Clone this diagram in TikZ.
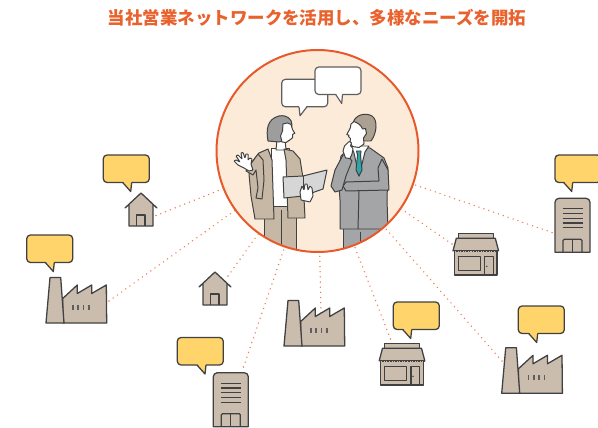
\documentclass[tikz,border=0pt]{standalone}
\usepackage{fontspec}
\newfontfamily\jpfont{Noto Sans CJK JP}

\definecolor{linkorange}{HTML}{EE7A50}
\definecolor{huborange}{HTML}{E8582B}
\definecolor{hubfill}{HTML}{FDEBD9}
\definecolor{titleorange}{HTML}{E9622D}
\definecolor{iconfill}{HTML}{CABDAE}
\definecolor{iconline}{HTML}{414141}
\definecolor{bubbleyellow}{HTML}{FFD46A}
\definecolor{hairgray}{HTML}{9D9D9D}
\definecolor{jacketbeige}{HTML}{C7B8A6}
\definecolor{suitgray}{HTML}{A4A5A7}
\definecolor{hairbrown}{HTML}{ABA092}
\definecolor{tieteal}{HTML}{2BA6AA}
\definecolor{foldergray}{HTML}{D6D6D6}

\tikzset{
  iconedge/.style={draw=iconline, line width=1.1pt, line join=round},
  icon/.style={iconedge, fill=iconfill},
  talkbox/.style={draw=iconline, fill=bubbleyellow, line width=1.1pt, line join=round},
  saybox/.style={draw=iconline!85, fill=white, line width=1pt, line join=round},
  figure/.style={draw=iconline, line width=0.85pt, line join=round},
  link/.style={linkorange, line width=1.3pt, dash pattern=on 0pt off 4.4pt, line cap=round},
  hubring/.style={circle, fill=hubfill, minimum size=6.06cm, inner sep=0pt},
  headline/.style={text=titleorange, font=\jpfont\bfseries\fontsize{14.9pt}{18pt}\selectfont},
  % small house, origin at the roof top
  pics/house/.style={code={
    \filldraw[icon] (-16,15) -- (0,0) -- (16,15) -- (12,11.5) -- (12,33) -- (-12,33) -- (-12,11.5) -- cycle;
    \draw[iconedge] (-4.5,33) -- (-4.5,22) -- (4,22) -- (4,33);
  }},
  % factory, origin at the foot of the chimney
  pics/factory/.style={code={
    \filldraw[icon] (16.7,-24.5) -- (31.3,-38) -- (31.3,-29.5) -- (45.7,-38) -- (45.7,-29.5) -- (60.3,-38) -- (60.7,0) -- (17,0) -- cycle;
    \filldraw[icon] (0,0) -- (4,-45.5) -- (14.7,-45.5) -- (18,0) -- cycle;
    \foreach \wx in {26,31.3,36.6,41.9}
      \fill[iconline!85] (\wx,-18) rectangle ++(1.7,5);
  }},
  % office tower, origin top left
  pics/tower/.style={code={
    \filldraw[icon] (0,54) -- (0,4) arc[start angle=180, end angle=270, radius=4] -- (31,0)
      arc[start angle=270, end angle=360, radius=4] -- (35,54) -- cycle;
    \foreach \ly in {10.5,15.2,20,24.8,29.5}
      \draw[iconedge] (7.5,\ly) -- (27.5,\ly);
    \draw[iconedge, rounded corners=1pt] (8,54) -- (8,41) -- (27,41) -- (27,54);
    \draw[iconedge] (17.5,41) -- (17.5,54);
  }},
  % shop with awning, origin top middle of the sign
  pics/shop/.style={code={
    \filldraw[icon] (-17.5,0) rectangle (17.5,5);
    \filldraw[icon] (-19.5,5) -- (19.5,5) -- (22.8,17.5) -- (-22.8,17.5) -- cycle;
    \filldraw[icon] (-21.3,17.5) rectangle (21.3,41.7);
    \draw[iconline, line width=1.6pt, dash pattern=on 1.3pt off 0.9pt] (-22.3,17.9) -- (22.3,17.9);
    \draw[iconedge] (-17.5,23.5) rectangle (4.5,37.5);
    \draw[iconedge] (9,41.7) -- (9,23.5) -- (17.5,23.5) -- (17.5,41.7);
    \fill[iconline] (11,33) circle (0.8);
  }},
  % speech bubble, origin top left; args: tail left, tip, tail right
  pics/talk/.style n args={3}{code={
    \filldraw[rounded corners=3.2pt] (0,0) rectangle (46,27.5);
    \fill (#1,26.2) -- (#2,36.5) -- (#3,26.2) -- cycle;
    \draw (#1,27.5) -- (#2,36.5) -- (#3,27.5);
  }},
}

\begin{document}
\begin{tikzpicture}[x=0.03cm, y=-0.03cm]
\useasboundingbox (0,0) rectangle (598,428);

\node[headline] (title) at (317,18) {当社営業ネットワークを活用し、多様なニーズを開拓};

% hub with the two people
\node[hubring] (hub) at (317.5,151) {};
\begin{scope}
\clip (hub.center) circle (100.5);
% woman
\filldraw[figure, fill=jacketbeige] (264,202) -- (296,202) -- (296,256) -- (264,256) -- cycle;
\draw[figure] (281,210) -- (281,256);
\filldraw[figure, fill=white] (271,148) -- (289,148) -- (289,206) -- (271,206) -- cycle;
\filldraw[figure, fill=white] (277,139) -- (285,139) -- (286,150) -- (276,150) -- cycle;
\filldraw[figure, fill=jacketbeige] (268,149) -- (259,153) -- (252,162) -- (249,174) -- (251,196) -- (255,219) -- (274,219) -- (273,190) -- (272,160) -- cycle;
\filldraw[figure, fill=jacketbeige] (284,149) -- (293,151) -- (300,159) -- (303,178) -- (305,218) -- (288,218) -- (287,190) -- (286,160) -- cycle;
\filldraw[figure, fill=jacketbeige] (258,154) -- (250,165) -- (246,171) -- (253,175) -- (256,170) -- (258,188) -- (256,198) -- (262,199) -- (264,180) -- (263,160) -- cycle;
\filldraw[figure, fill=white, rounded corners=0.4pt] (249,171) -- (244,168) -- (238,165) -- (234,161) -- (236,160) -- (240,162) -- (236,156) -- (238,155) -- (242,159) -- (241,153) -- (243,152.5) -- (245,158) -- (246,154) -- (248,154) -- (248,160) -- (250,158) -- (252,159) -- (251,164) -- (253,170) -- cycle;
\filldraw[figure, fill=foldergray] (283,177) -- (303,176) -- (327,170) -- (323,189) -- (303,196) -- (284,198) -- cycle;
\draw[figure] (303,176) -- (303,196);
\filldraw[figure, fill=white, rounded corners=0.4pt] (301,200) -- (300,192) -- (302,186) -- (304,190) -- (305,184) -- (307,184) -- (308,190) -- (310,186) -- (312,188) -- (313,196) -- (310,202) -- cycle;
\filldraw[figure, fill=hairgray] (268,141) .. controls (266,130) and (267,119) .. (279,116) .. controls (287,114.5) and (292,119) .. (292,125) -- (289,139) -- (279,142) -- cycle;
\filldraw[figure, fill=white] (283,124) .. controls (286,123) and (289,122) .. (291,124.5) -- (292.5,129.5) -- (294.8,133.3) -- (292.7,134.3) -- (292.7,137.5) -- (290.5,139.5) -- (286,142.5) -- (282,142) -- (280.5,136) -- (282.5,131) -- cycle;
% man
\filldraw[figure, fill=suitgray] (343,225) -- (380,225) -- (380,256) -- (343,256) -- cycle;
\draw[figure] (360,232) -- (360,256);
\filldraw[figure, fill=suitgray] (350,147) -- (341,156) -- (338,172) -- (340,200) -- (340,229) -- (388,229) -- (387,200) -- (388,168) -- (384,158) -- (370,148) -- cycle;
\draw[figure] (359,190) -- (358,229);
\filldraw[figure, fill=white] (351,146) -- (369,146) -- (365,152) -- (359,176) -- (354,153) -- cycle;
\filldraw[figure, fill=tieteal] (356.5,151) -- (361,151) -- (360.5,155) -- (362,170) -- (359,176) -- (356,170) -- (357.5,155) -- cycle;
\filldraw[figure, fill=suitgray] (382,159) -- (388,170) -- (389,190) -- (346,191) -- (343,186) -- (346,182) -- (379,181) -- (378,168) -- cycle;
\filldraw[figure, fill=suitgray] (343,155) -- (335,170) -- (331,186) -- (335,192) -- (342,190) -- (346,176) -- (352,161) -- (347,155) -- cycle;
\filldraw[figure, fill=hairbrown] (353,123) .. controls (355,115) and (365,112) .. (372,116) .. controls (378,120) and (377,133) .. (371,141) -- (363,141) -- (357,127) -- cycle;
\filldraw[figure, fill=white] (354,121.5) .. controls (358,123) and (361,125) .. (362.5,129) -- (365.5,128.5) -- (366.5,133.5) -- (363.5,138) -- (364,144) -- (359,147.5) -- (352.5,146.5) -- (350,142.5) -- (350.5,138.5) -- (348.5,136.5) -- (349,135.3) -- (346.8,134.5) -- (350.3,128) -- (351,124) -- cycle;
\filldraw[figure, fill=white, rounded corners=0.4pt] (345.5,158) -- (343,151) -- (344.5,146) -- (349,141.5) -- (351.5,142.5) -- (350.5,146) -- (353,148.5) -- (352,154) -- (350,158.5) -- cycle;
% what they say
\pic[saybox] at (281.7,79.3) {talk={17.3}{18.3}{25.3}};
\pic[saybox] at (315,67) {talk={20.7}{26.7}{27.5}};
\end{scope}
\draw[huborange, line width=1.7pt] (hub.center) circle (101);

% dotted links out to the customers
\coordinate (houseA-end) at (156,215.5);
\coordinate (houseB-end) at (228,276);
\coordinate (factoryA-end) at (109,301);
\coordinate (factoryB-end) at (321,313);
\coordinate (factoryC-end) at (502,361);
\coordinate (towerA-end) at (243.5,367);
\coordinate (towerB-end) at (552,232.5);
\coordinate (shopA-end) at (452,244);
\coordinate (shopB-end) at (390.5,339);
\foreach \e in {houseA,houseB,factoryA,factoryB,factoryC,towerA,towerB,shopA,shopB}
  \draw[link] (\e-end) -- (hub);

% customers
\pic at (141,193) {house};
\pic at (215,272) {house};
\pic at (46,323) {factory};
\pic at (284,346) {factory};
\pic at (501.7,393.3) {factory};
\pic at (213.3,372.7) {tower};
\pic at (555,198.3) {tower};
\pic at (475.8,233.3) {shop};
\pic at (402,343.3) {shop};

% their voices
\pic[talkbox] at (103.3,155) {talk={19.4}{27.4}{28.4}};
\pic[talkbox] at (26.7,235) {talk={18.6}{26.6}{27.6}};
\pic[talkbox] at (555,155) {talk={8.7}{16.7}{17.7}};
\pic[talkbox] at (393.3,302) {talk={9.4}{17.4}{18.4}};
\pic[talkbox] at (518.3,306) {talk={10.4}{18.4}{19.4}};
\pic[talkbox] at (177.3,337.5) {talk={19.7}{27.7}{28.7}};
\end{tikzpicture}
\end{document}
